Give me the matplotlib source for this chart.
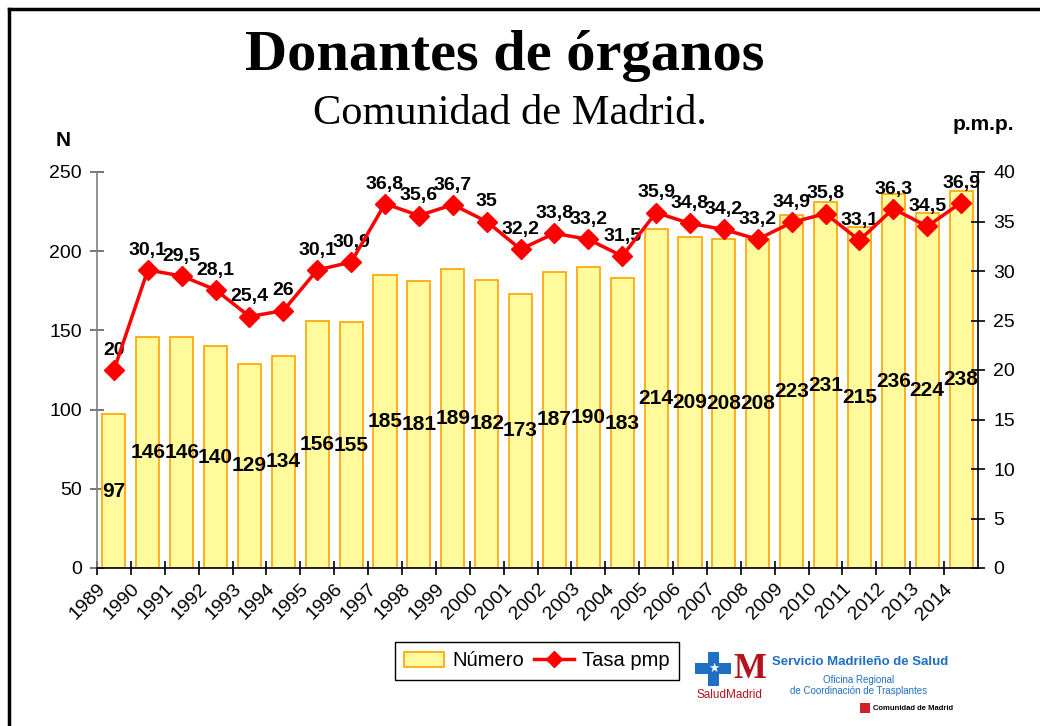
import matplotlib
matplotlib.use("Agg")
import matplotlib.pyplot as plt
import matplotlib.transforms as mtransforms
from matplotlib.patches import Rectangle, Patch
from matplotlib.lines import Line2D
import numpy as np

years = [str(y) for y in range(1989, 2015)]
numero = [97, 146, 146, 140, 129, 134, 156, 155, 185, 181, 189, 182, 173, 187,
          190, 183, 214, 209, 208, 208, 223, 231, 215, 236, 224, 238]
tasa = [20, 30.1, 29.5, 28.1, 25.4, 26, 30.1, 30.9, 36.8, 35.6, 36.7, 35, 32.2,
        33.8, 33.2, 31.5, 35.9, 34.8, 34.2, 33.2, 34.9, 35.8, 33.1, 36.3, 34.5, 36.9]
left_ticks = [0, 50, 100, 150, 200, 250]
right_ticks = [0, 5, 10, 15, 20, 25, 30, 35, 40]

SANS = ["Liberation Sans", "DejaVu Sans"]
SERIF = ["Liberation Serif", "DejaVu Serif"]
plt.rcParams['font.family'] = SANS

W, H = 1040, 726
fig = plt.figure(figsize=(W / 100, H / 100), dpi=100)

def fx(px):
    return px / W

def fy(py):
    return 1 - py / H

ax = fig.add_axes([fx(97), fy(568), fx(978) - fx(97), fy(172) - fy(568)])
ax2 = ax.twinx()

x = np.arange(len(years))
bar_fill = "#FFFA9C"
bar_edge = "#FFA200"
ax.bar(x, numero, width=0.68, color=bar_fill, edgecolor=bar_edge, linewidth=1.2, zorder=2)
for xi, v in zip(x, numero):
    ax.text(xi, v / 2, str(v), ha="center", va="center", fontsize=15,
            fontweight="bold", color="black", zorder=3)

ax.set_xlim(-0.5, len(years) - 0.5)
ax.set_ylim(0, 250)
ax.set_yticks(left_ticks)
ax.set_yticklabels([str(t) for t in left_ticks], fontsize=14)

ax.set_xticks(np.arange(len(years)) - 0.5)
ax.set_xticklabels(years, rotation=45, ha="right", rotation_mode="anchor", fontsize=14)
offset = mtransforms.ScaledTranslation(8 / 100, -2 / 100, fig.dpi_scale_trans)
for lab in ax.get_xticklabels():
    lab.set_transform(lab.get_transform() + offset)

for s in ["top", "right"]:
    ax.spines[s].set_visible(False)
ax.spines["left"].set_color("#808080")
ax.spines["left"].set_linewidth(1.2)
ax.spines["bottom"].set_color("black")
ax.spines["bottom"].set_linewidth(1.2)
ax.tick_params(axis="y", direction="inout", length=10, width=1.2, color="#606060", pad=6)
ax.tick_params(axis="x", direction="inout", length=10, width=1.2, color="black", pad=4)

ax2.plot(x, tasa, color="#FF0000", linewidth=2.5, marker="D", markersize=10,
         markeredgecolor="#FF0000", markerfacecolor="#FF0000", zorder=5)
for xi, v in zip(x, tasa):
    lbl = ("%g" % v).replace(".", ",")
    ax2.annotate(lbl, (xi, v), xytext=(0, 8), textcoords="offset points",
                 ha="center", va="bottom", fontsize=14, fontweight="bold")
ax2.set_ylim(0, 40)
ax2.set_yticks(right_ticks)
ax2.set_yticklabels([str(t) for t in right_ticks], fontsize=14)
for s in ["top", "left", "bottom"]:
    ax2.spines[s].set_visible(False)
ax2.spines["right"].set_color("black")
ax2.spines["right"].set_linewidth(1.2)
ax2.tick_params(axis="y", direction="inout", length=10, width=1.2, color="black", pad=6)

# titles
fig.text(fx(505), fy(56), "Donantes de órganos", family=SERIF, fontweight="bold",
         fontsize=42, ha="center", va="center")
fig.text(fx(510), fy(114), "Comunidad de Madrid.", family=SERIF, fontsize=30.5,
         ha="center", va="center")
fig.text(fx(63), fy(140), "N", fontsize=15, fontweight="bold", ha="center", va="center")
fig.text(fx(983), fy(125), "p.m.p.", fontsize=15, fontweight="bold", ha="center", va="center")

# legend
handles = [Patch(facecolor=bar_fill, edgecolor=bar_edge, linewidth=1.2),
           Line2D([0], [0], color="#FF0000", linewidth=2.5, marker="D", markersize=8)]
leg = fig.legend(handles, ["Número", "Tasa pmp"], loc="center",
                 bbox_to_anchor=(fx(537), fy(661)), ncol=2, fontsize=14.5,
                 frameon=True, fancybox=False, edgecolor="black", framealpha=1,
                 handlelength=2.0, handletextpad=0.4, columnspacing=0.5,
                 borderpad=0.45, borderaxespad=0)
leg.get_frame().set_linewidth(1.0)

# figure border (top and left)
fig.add_artist(Line2D([fx(9), 1.0], [fy(9), fy(9)], color="black", linewidth=2.5,
                      transform=fig.transFigure))
fig.add_artist(Line2D([fx(9), fx(9)], [fy(9), 0.0], color="black", linewidth=2.5,
                      transform=fig.transFigure))

# logo approximation
blue = "#1F6FC5"
red = "#B5121B"
def frect(x0, y0, x1, y1, color):
    fig.add_artist(Rectangle((fx(x0), fy(y1)), fx(x1) - fx(x0), fy(y0) - fy(y1),
                             transform=fig.transFigure, color=color, lw=0))
frect(695, 663, 731, 674, blue)
frect(708, 652, 719, 686, blue)
fig.text(fx(713.5), fy(668.5), "★", color="white", fontsize=9, ha="center", va="center",
         family=["DejaVu Sans"])
fig.text(fx(750), fy(670), "M", color=red, fontsize=25, fontweight="bold",
         ha="center", va="center", family=SERIF)
fig.text(fx(729), fy(695), "SaludMadrid", color=red, fontsize=8.5, ha="center", va="center")
fig.text(fx(860), fy(662), "Servicio Madrileño de Salud", color=blue, fontsize=9.5,
         fontweight="bold", ha="center", va="center")
fig.text(fx(859), fy(680), "Oficina Regional", color=blue, fontsize=7, ha="center", va="center")
fig.text(fx(859), fy(691), "de Coordinación de Trasplantes", color=blue, fontsize=7,
         ha="center", va="center")
frect(860, 703, 870, 713, "#D0202A")
fig.text(fx(873), fy(708), "Comunidad de Madrid", color="black", fontsize=5.5,
         fontweight="bold", ha="left", va="center")

fig.savefig("out.png", dpi=100)
